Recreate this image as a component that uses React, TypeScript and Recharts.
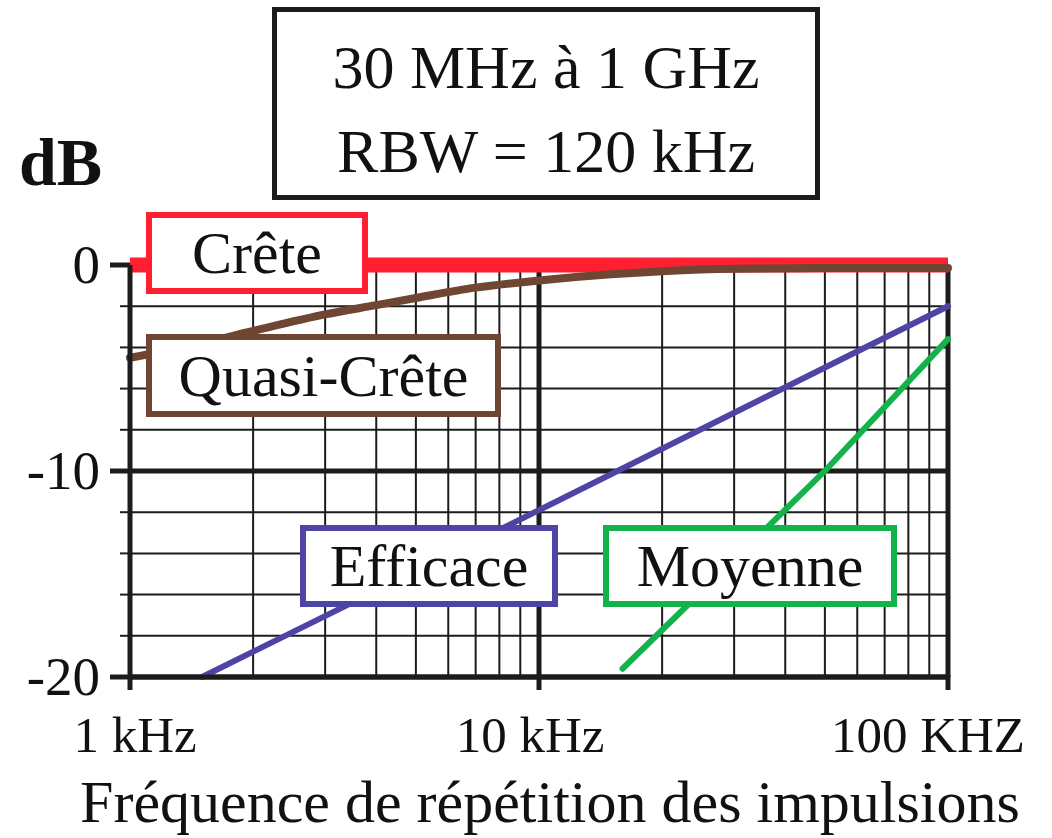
import React from 'react';
import { LineChart, Line, XAxis, YAxis, ReferenceLine } from 'recharts';

const SERIF = '"Liberation Serif", "Times New Roman", serif';
const INK = '#1c1c1c';

// repetition frequency in kHz
const creteFreq = [1, 100];
const creteDb = [0, 0];

const quasiFreq = [1, 1.5, 2, 3, 4, 5, 7, 10, 15, 20, 30, 50, 100];
const quasiDb = [-4.5, -3.8, -3.2, -2.4, -1.95, -1.6, -1.1, -0.75, -0.45, -0.3, -0.18, -0.15, -0.15];

const efficaceFreq = [1.5, 10, 100];
const efficaceDb = [-20, -11.9, -2];

const moyenneFreq = [16, 50, 100];
const moyenneDb = [-19.6, -10, -3.6];

const xTicks = [1, 10, 100];
const xTickLabels = ['1 kHz', '10 kHz', '100 KHZ'];
const yTicks = [0, -2, -4, -6, -8, -10, -12, -14, -16, -18, -20];
const yMajor = [0, -10, -20];

const vMinor = [2, 3, 4, 5, 6, 7, 8, 9, 20, 30, 40, 50, 60, 70, 80, 90];
const vMajor = [10, 100];
const hMinor = [0, -2, -4, -6, -8, -12, -14, -16, -18];
const hMajor = [-10, -20];

const toPts = (f: number[], v: number[]) => f.map((x, i) => ({ f: x, v: v[i] }));

const XTick = (props: any) => {
  const { x, y, payload, index } = props;
  const shift = [5, -9, -20][index] ?? 0;
  return (
    <g>
      <line x1={x} y1={y - 2} x2={x} y2={y + 13} stroke={INK} strokeWidth={5} />
      <text x={x + shift} y={y + 75} textAnchor="middle" fontSize={51} fontFamily={SERIF} fill="#111">
        {xTickLabels[xTicks.indexOf(payload.value)]}
      </text>
    </g>
  );
};

const YTick = (props: any) => {
  const { x, y, payload } = props;
  const major = yMajor.includes(payload.value);
  return (
    <g>
      <line x1={x - (major ? 20 : 10)} y1={y} x2={x} y2={y} stroke={INK} strokeWidth={major ? 5 : 2} />
      {major && (
        <text x={x - 30} y={y} dy={18} textAnchor="end" fontSize={55} fontFamily={SERIF} fill="#111">
          {payload.value === 0 ? '0' : `-${Math.abs(payload.value)}`}
        </text>
      )}
    </g>
  );
};

const boxStyle = (left: number, top: number, w: number, h: number, color: string): React.CSSProperties => ({
  position: 'absolute',
  left,
  top,
  width: w,
  height: h,
  boxSizing: 'border-box',
  border: `6px solid ${color}`,
  background: '#fff',
  display: 'flex',
  alignItems: 'center',
  justifyContent: 'center',
  fontFamily: SERIF,
  fontSize: 60,
  lineHeight: 1,
  color: '#111',
});

export default function App() {
  return (
    <div style={{ position: 'absolute', left: 0, top: 0, width: 1052, height: 838, background: '#fff', overflow: 'hidden' }}>
      <LineChart width={1052} height={838} margin={{ top: 265, right: 104, bottom: 0, left: 30 }}>
        <XAxis
          type="number"
          dataKey="f"
          scale="log"
          domain={[1, 100]}
          ticks={xTicks}
          interval={0}
          height={161}
          tickSize={0}
          tickMargin={0}
          tickLine={false}
          axisLine={{ stroke: INK, strokeWidth: 5 }}
          tick={<XTick />}
          allowDuplicatedCategory={false}
          label={{
            value: 'Fréquence de répétition des impulsions',
            position: 'insideBottom',
            offset: 16,
            dx: 11,
            fontSize: 60,
            fontFamily: SERIF,
            fill: '#111',
          }}
        />
        <YAxis
          type="number"
          domain={[-20, 0]}
          ticks={yTicks}
          interval={0}
          width={100}
          tickSize={0}
          tickMargin={0}
          tickLine={false}
          axisLine={{ stroke: INK, strokeWidth: 5 }}
          tick={<YTick />}
        />
        {hMinor.map((v) => (
          <ReferenceLine key={`hm${v}`} y={v} stroke={INK} strokeWidth={2} />
        ))}
        {vMinor.map((v) => (
          <ReferenceLine key={`vm${v}`} x={v} stroke={INK} strokeWidth={2} />
        ))}
        {hMajor.map((v) => (
          <ReferenceLine key={`hM${v}`} y={v} stroke={INK} strokeWidth={5} />
        ))}
        {vMajor.map((v) => (
          <ReferenceLine key={`vM${v}`} x={v} stroke={INK} strokeWidth={5} />
        ))}
        <Line
          data={toPts(creteFreq, creteDb)}
          dataKey="v"
          stroke="#ff1f30"
          strokeWidth={15}
          dot={false}
          isAnimationActive={false}
        />
        <Line
          data={toPts(quasiFreq, quasiDb)}
          dataKey="v"
          type="monotone"
          stroke="#6e4632"
          strokeWidth={8}
          strokeLinecap="round"
          dot={false}
          isAnimationActive={false}
        />
        <Line
          data={toPts(efficaceFreq, efficaceDb)}
          dataKey="v"
          stroke="#4d44a6"
          strokeWidth={6}
          strokeLinecap="round"
          dot={false}
          isAnimationActive={false}
        />
        <Line
          data={toPts(moyenneFreq, moyenneDb)}
          dataKey="v"
          stroke="#14b24a"
          strokeWidth={6}
          strokeLinecap="round"
          dot={false}
          isAnimationActive={false}
        />
      </LineChart>

      {/* title block */}
      <div
        style={{
          position: 'absolute',
          left: 272,
          top: 7,
          width: 548,
          height: 193,
          boxSizing: 'border-box',
          border: `5px solid ${INK}`,
          background: '#fff',
        }}
      />
      <div style={{ position: 'absolute', left: 272, width: 548, top: 36, textAlign: 'center', fontFamily: SERIF, fontSize: 62, lineHeight: 1, color: '#111' }}>
        30 MHz à 1 GHz
      </div>
      <div style={{ position: 'absolute', left: 272, width: 548, top: 120, textAlign: 'center', fontFamily: SERIF, fontSize: 62, lineHeight: 1, color: '#111' }}>
        RBW = 120 kHz
      </div>
      <div style={{ position: 'absolute', left: 19, top: 128, fontFamily: SERIF, fontSize: 68, fontWeight: 'bold', lineHeight: 1, color: '#111' }}>
        dB
      </div>

      {/* series labels */}
      <div style={boxStyle(146, 212, 222, 82, '#ff1f30')}>Crête</div>
      <div style={boxStyle(146, 334, 355, 83, '#6e4632')}>Quasi-Crête</div>
      <div style={boxStyle(300, 525, 258, 82, '#4d44a6')}>Efficace</div>
      <div style={boxStyle(603, 525, 294, 82, '#14b24a')}>Moyenne</div>
    </div>
  );
}
